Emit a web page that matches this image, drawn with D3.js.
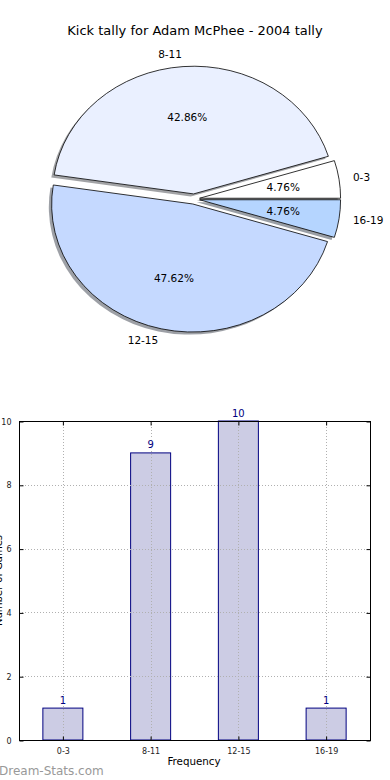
<!DOCTYPE html>
<html>
<head>
<meta charset="utf-8">
<script src="https://cdn.jsdelivr.net/npm/d3@7"></script>
<style>
  html, body { margin: 0; padding: 0; background: #ffffff; }
  svg { display: block; font-family: "DejaVu Sans", sans-serif; }
</style>
</head>
<body>
<svg id="chart" width="390" height="780"></svg>
<script>
// ---- data ----
const categories = ["0-3", "8-11", "12-15", "16-19"];
const counts = [1, 9, 10, 1];
const pieExplode = [0.04, 0.04, 0.04, 0.04];
const yTicks = [0, 2, 4, 6, 8, 10];
const titleText = "Kick tally for Adam McPhee - 2004 tally";
const xLabelText = "Frequency";
const yLabelText = "Number of Games";
const watermarkText = "Dream-Stats.com";

// ---- styles ----
const pieFill = ["#ffffff", "#eaf0ff", "#c5d9ff", "#b5d5ff"];

const svg = d3.select("#chart");

// Title
svg.append("text")
  .attr("x", 195).attr("y", 35)
  .attr("text-anchor", "middle")
  .attr("font-size", 13)
  .attr("fill", "#000")
  .text(titleText);

// ---- Pie ----
const cx = 194, cy = 199, rx = 141, ry = 127.5;
const total = d3.sum(counts);
const pie = d3.pie().sort(null).value(d => d)
  .startAngle(Math.PI / 2).endAngle(Math.PI / 2 - 2 * Math.PI);
const arcs = pie(counts);
const arcGen = d3.arc().innerRadius(0).outerRadius(1);
const fmtPct = d3.format(".2f");

const slices = arcs.map((a, i) => {
  const mid = Math.PI / 2 - (a.startAngle + a.endAngle) / 2; // math angle (ccw from east)
  const ox = cx + pieExplode[i] * rx * Math.cos(mid);
  const oy = cy - pieExplode[i] * ry * Math.sin(mid);
  return { a, i, mid, ox, oy };
});

const pieG = svg.append("g");
// shadows
pieG.selectAll("path.shadow").data(slices).enter().append("path")
  .attr("class", "shadow")
  .attr("transform", d => `translate(${d.ox - 0.02 * rx},${d.oy + 0.02 * ry}) scale(${rx},${ry})`)
  .attr("d", d => arcGen(d.a))
  .attr("fill", d => { const c = d3.rgb(pieFill[d.i]); return d3.rgb(c.r * 0.3, c.g * 0.3, c.b * 0.3); })
  .attr("stroke", "none")
  .attr("opacity", 0.5);
// wedges
pieG.selectAll("path.wedge").data(slices).enter().append("path")
  .attr("class", "wedge")
  .attr("transform", d => `translate(${d.ox},${d.oy}) scale(${rx},${ry})`)
  .attr("d", d => arcGen(d.a))
  .attr("fill", d => pieFill[d.i])
  .attr("stroke", "#000")
  .attr("stroke-width", 0.8)
  .attr("vector-effect", "non-scaling-stroke");
// category labels
pieG.selectAll("text.lab").data(slices).enter().append("text")
  .attr("class", "lab")
  .attr("x", d => d.ox + 1.1 * rx * Math.cos(d.mid))
  .attr("y", d => d.oy - 1.1 * ry * Math.sin(d.mid))
  .attr("dy", "0.35em")
  .attr("text-anchor", d => Math.cos(d.mid) > 0 ? "start" : "end")
  .attr("font-size", 10.5)
  .text(d => categories[d.i]);
// percent labels
pieG.selectAll("text.pct").data(slices).enter().append("text")
  .attr("class", "pct")
  .attr("x", d => d.ox + 0.6 * rx * Math.cos(d.mid))
  .attr("y", d => d.oy - 0.6 * ry * Math.sin(d.mid))
  .attr("dy", "0.35em")
  .attr("text-anchor", "middle")
  .attr("font-size", 10.5)
  .text(d => fmtPct(counts[d.i] / total * 100) + "%");

// ---- Bar chart ----
const bx0 = 19, bx1 = 370, by0 = 421, by1 = 740;
const x = d3.scaleBand().domain(categories).range([bx0, bx1])
  .paddingInner(0.544).paddingOuter(0.272);
const y = d3.scaleLinear().domain([0, 10]).range([by1, by0]);

const barG = svg.append("g");
barG.selectAll("rect.bar").data(counts).enter().append("rect")
  .attr("class", "bar")
  .attr("x", (d, i) => x(categories[i]))
  .attr("y", d => y(d))
  .attr("width", x.bandwidth())
  .attr("height", d => y(0) - y(d))
  .attr("fill", "#ccccE4")
  .attr("stroke", "#000080")
  .attr("stroke-width", 1);

// grid (drawn above bars)
const gridG = svg.append("g")
  .attr("stroke", "#b0b0b0").attr("stroke-width", 1).attr("stroke-dasharray", "1,2");
gridG.selectAll("line.h").data(yTicks).enter().append("line")
  .attr("x1", bx0).attr("x2", bx1)
  .attr("y1", d => Math.round(y(d)) + 0.5).attr("y2", d => Math.round(y(d)) + 0.5);
gridG.selectAll("line.v").data(categories).enter().append("line")
  .attr("x1", d => Math.round(x(d) + x.bandwidth() / 2) + 0.5)
  .attr("x2", d => Math.round(x(d) + x.bandwidth() / 2) + 0.5)
  .attr("y1", by0).attr("y2", by1);

// axes frame
svg.append("rect")
  .attr("x", bx0 + 0.5).attr("y", by0 + 0.5)
  .attr("width", bx1 - bx0).attr("height", by1 - by0)
  .attr("fill", "none").attr("stroke", "#000").attr("stroke-width", 1);

// y axis (left) ticks inward, labels outside
const yAxisL = d3.axisLeft(y).tickValues(yTicks).tickSize(-4).tickPadding(8).tickFormat(d3.format("d"));
const gyl = svg.append("g").attr("transform", `translate(${bx0 + 0.5},0.5)`).call(yAxisL);
gyl.select(".domain").remove();
gyl.selectAll("text").attr("font-size", 8).attr("font-family", "DejaVu Sans").attr("fill", "#222");
// y axis right ticks inward
const yAxisR = d3.axisRight(y).tickValues(yTicks).tickSize(-4).tickFormat("");
const gyr = svg.append("g").attr("transform", `translate(${bx1 + 0.5},0.5)`).call(yAxisR);
gyr.select(".domain").remove();

// x axis bottom
const xAxisB = d3.axisBottom(x).tickSize(-4).tickPadding(8);
const gxb = svg.append("g").attr("transform", `translate(0.5,${by1 + 0.5})`).call(xAxisB);
gxb.select(".domain").remove();
gxb.selectAll("text").attr("font-size", 8).attr("font-family", "DejaVu Sans").attr("fill", "#222");
// x axis top ticks
const xAxisT = d3.axisTop(x).tickSize(-4).tickFormat("");
const gxt = svg.append("g").attr("transform", `translate(0.5,${by0 + 0.5})`).call(xAxisT);
gxt.select(".domain").remove();

// value labels (on top of grid)
svg.append("g").selectAll("text.val").data(counts).enter().append("text")
  .attr("class", "val")
  .attr("x", (d, i) => x(categories[i]) + x.bandwidth() / 2)
  .attr("y", d => y(d) - 4.5)
  .attr("text-anchor", "middle")
  .attr("font-size", 10)
  .attr("fill", "#000080")
  .attr("stroke", "#ffffff").attr("stroke-width", 2).attr("paint-order", "stroke")
  .text(d => d);

// axis labels
svg.append("text")
  .attr("x", 194).attr("y", 765)
  .attr("text-anchor", "middle")
  .attr("font-size", 10.3)
  .text(xLabelText);
svg.append("text")
  .attr("transform", `translate(1.5,${(by0 + by1) / 2}) rotate(-90)`)
  .attr("text-anchor", "middle")
  .attr("font-size", 10)
  .text(yLabelText);

// watermark
svg.append("text")
  .attr("x", -1).attr("y", 775)
  .attr("font-size", 12)
  .attr("fill", "#999999")
  .text(watermarkText);
</script>
</body>
</html>
